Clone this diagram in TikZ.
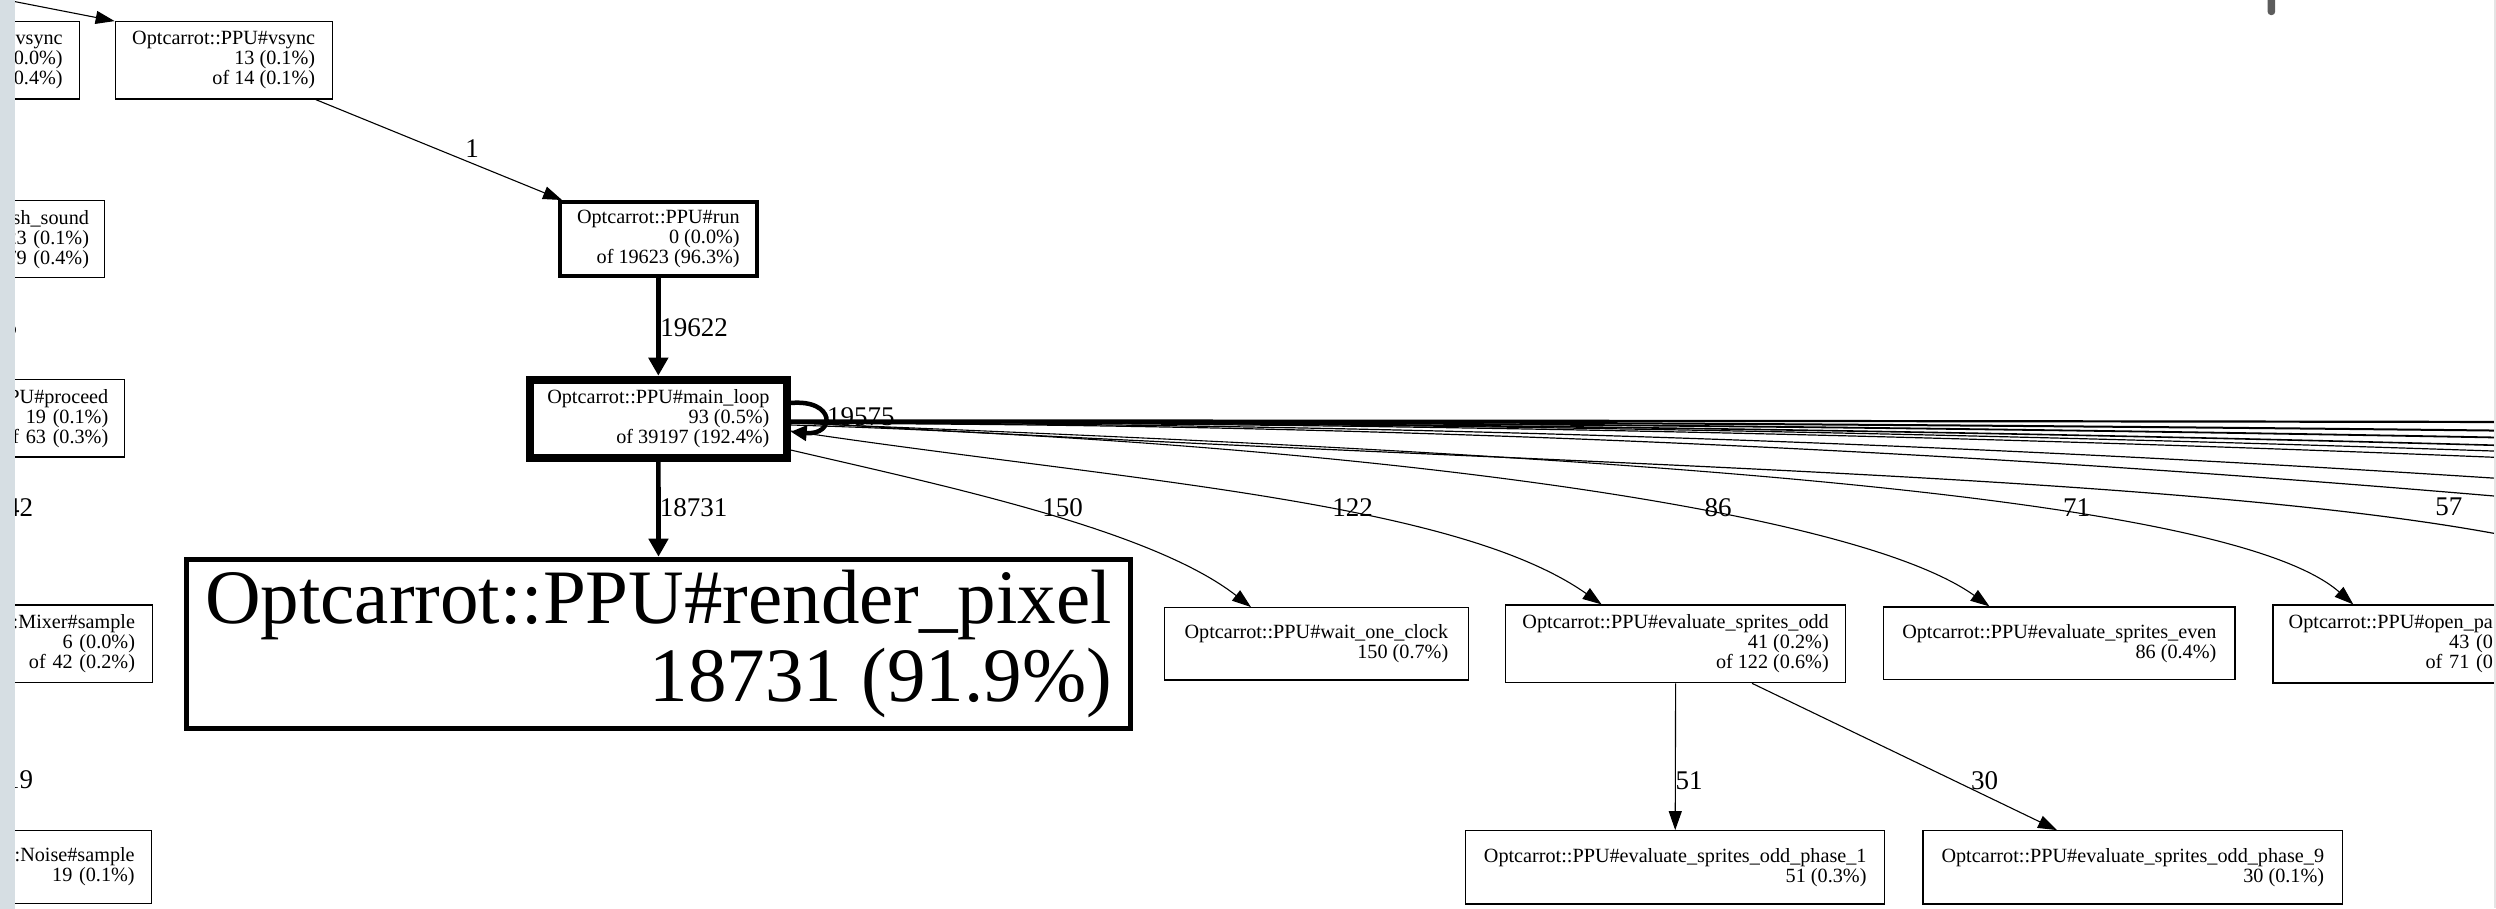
\documentclass[tikz,border=0pt]{standalone}
\usepackage{fontspec}
\setmainfont{Liberation Serif}
\usetikzlibrary{arrows.meta}
\definecolor{stripcol}{RGB}{214,222,227}
\definecolor{barcol}{RGB}{92,92,92}
\definecolor{rimcol}{RGB}{228,228,228}
\begin{document}
\begin{tikzpicture}[x=1pt,y=-1pt,
  fn/.style={draw, line width=1.2pt, align=right, inner xsep=17pt, inner ysep=0pt,
    font=\fontsize{20.2}{20}\selectfont},
  elabel/.style={inner sep=0pt, font=\fontsize{27}{27}\selectfont},
  thinedge/.style={line width=1.1pt, -{Triangle[length=19pt,width=13pt]}},
  thickedge/.style={line width=4.7pt, -{Triangle[length=18pt,width=19pt]}},
  loopedge/.style={line width=4.5pt, -{Triangle[length=16pt,width=15pt]}},
  fanedge/.style={line width=1.2pt}
]
\useasboundingbox (0,0) rectangle (2496,908);
\clip (0,0) rectangle (2496,908);

% ---------- nodes ----------
\node[fn, inner xsep=16.7pt, text width=86pt, minimum height=77.3pt, anchor=east] (vsyncL) at (80,60.35)
  {\#vsync\\(0.0\%)\\(0.4\%)};
\node[fn, minimum width=216pt, minimum height=77.3pt] (vsync) at (223.7,60.35)
  {Optcarrot::PPU\#vsync\\13 (0.1\%)\\of 14 (0.1\%)};
\node[fn, inner xsep=15.7pt, text width=106pt, minimum height=77pt, anchor=east] (flushL) at (105.3,239.2)
  {sh\_sound\\23 (0.1\%)\\79 (0.4\%)};
\node[fn, inner xsep=16.1pt, text width=126pt, minimum height=77.7pt, anchor=east] (proceedL) at (125,418.15)
  {PU\#proceed\\19 (0.1\%)\\of 63 (0.3\%)};
\node[fn, inner xsep=17.1pt, text width=156pt, minimum height=77.3pt, anchor=east] (mixerL) at (152.7,643.65)
  {:Mixer\#sample\\6 (0.0\%)\\of 42 (0.2\%)};
\node[fn, inner xsep=16.4pt, text width=156pt, minimum height=72.6pt, anchor=east] (noiseL) at (151.7,867)
  {:Noise\#sample\\19 (0.1\%)};

\node[fn, line width=4pt, minimum width=192.7pt, minimum height=74.3pt] (run) at (658.35,239.15)
  {Optcarrot::PPU\#run\\0 (0.0\%)\\of 19623 (96.3\%)};
\node[fn, line width=8pt, minimum width=256.7pt, minimum height=78pt] (main) at (658.35,418.7)
  {Optcarrot::PPU\#main\_loop\\93 (0.5\%)\\of 39197 (192.4\%)};
\node[fn, line width=5pt, inner xsep=19pt, minimum width=942pt, minimum height=169pt,
  font=\fontsize{77}{78}\selectfont] (render) at (658.5,643.7)
  {Optcarrot::PPU\#render\_pixel\\18731 (91.9\%)};

\node[fn, minimum width=303.8pt, minimum height=72.3pt] (wait) at (1316.4,643.85)
  {Optcarrot::PPU\#wait\_one\_clock\\150 (0.7\%)};
\node[fn, minimum width=340.2pt, minimum height=77.7pt] (odd) at (1675.6,643.85)
  {Optcarrot::PPU\#evaluate\_sprites\_odd\\41 (0.2\%)\\of 122 (0.6\%)};
\node[fn, minimum width=351.4pt, minimum height=72.5pt] (even) at (2059.3,643.25)
  {Optcarrot::PPU\#evaluate\_sprites\_even\\86 (0.4\%)};
\node[fn, inner xsep=12pt, text width=208pt, minimum height=78pt, anchor=west] (openpa) at (2272.3,644)
  {Optcarrot::PPU\#open\_pa\\43 (0\\of 71 (0};
\node[fn, minimum width=419pt, minimum height=73.3pt] (phase1) at (1675.2,867.35)
  {Optcarrot::PPU\#evaluate\_sprites\_odd\_phase\_1\\51 (0.3\%)};
\node[fn, minimum width=419.6pt, minimum height=73.3pt] (phase9) at (2132.8,867.35)
  {Optcarrot::PPU\#evaluate\_sprites\_odd\_phase\_9\\30 (0.1\%)};

% ---------- free ends ----------
\coordinate (vin) at (-20,-5.2);
\coordinate (offA) at (2800,422.5);
\coordinate (offB) at (2800,434.3);
\coordinate (offC) at (2800,443.7);
\coordinate (offD) at (2800,454.3);
\coordinate (offE) at (2800,462.4);
\coordinate (offF) at (2800,470.9);
\coordinate (offG) at (2800,499.7);
\coordinate (offH) at (2800,524.4);
\coordinate (off57) at (2700,605);

% ---------- edges ----------
\draw[thinedge] (vin) -- (vsync.north west);
\draw[thinedge] ([xshift=-17pt]vsync.south east) -- ([xshift=4pt]run.north west);
\draw[thickedge] (run.south) -- (main.north);
\draw[thickedge] (main.south) -- (render.north);
\draw[loopedge] ([yshift=15.7pt]main.east) .. controls +(45,-4) and +(45,4) .. ([yshift=-13pt]main.east);

\draw[fanedge, line width=2.2pt] ([yshift=-1.8pt]main.east) .. controls +(669.7,0) and +(-669.7,-1.3) .. (offA);
\draw[fanedge, line width=2pt] ([yshift=-2.3pt]main.east) .. controls +(669.7,0) and +(-669.7,-8.9) .. (offB);
\draw[fanedge, line width=1.8pt] ([yshift=-2.8pt]main.east) .. controls +(669.7,0) and +(-669.7,-14.8) .. (offC);
\draw[fanedge, line width=1.6pt] ([yshift=-3.3pt]main.east) .. controls +(669.7,0) and +(-669.7,-21.5) .. (offD);
\draw[fanedge] ([yshift=-3.3pt]main.east) .. controls +(669.7,0) and +(-669.7,-26.9) .. (offE);
\draw[fanedge] ([yshift=-3.8pt]main.east) .. controls +(669.7,0) and +(-669.7,-32.3) .. (offF);
\draw[fanedge] ([yshift=-4.3pt]main.east) .. controls +(669.7,0) and +(-669.7,-51.1) .. (offG);
\draw[fanedge] ([yshift=-4.8pt]main.east) .. controls +(669.7,0) and +(-669.7,-67.3) .. (offH);
\draw[fanedge] ([yshift=-3.3pt]main.east) .. controls +(900,54) and +(-150,-132) .. (off57);

\draw[thinedge] ([yshift=-4.3pt]main.east) .. controls +(700,28) and +(-135,-118.8) .. ([xshift=81pt]openpa.north west);
\draw[thinedge] ([yshift=-6.3pt]main.east) .. controls +(500,15) and +(-145.8,-104.4) .. ([xshift=-69.8pt]even.north);
\draw[thinedge] ([yshift=-12.3pt]main.east) .. controls +(330,49.5) and +(-147.6,-104) .. ([xshift=-74pt]odd.north);
\draw[thinedge] ([yshift=-31.3pt]main.east) .. controls +(150,35) and +(-100,-78) .. ([xshift=-65.4pt]wait.north);

\draw[thinedge] (odd.south) -- (phase1.north);
\draw[thinedge] ([xshift=76.4pt]odd.south) -- ([xshift=-75.8pt]phase9.north);

% ---------- edge labels ----------
\node[elabel] (l1) at (472,148.8) {1};
\node[elabel] (l19622) at (694,327.8) {19622};
\node[elabel] (l19575) at (860.8,416.7) {19575};
\node[elabel] (l18731) at (693.7,507.8) {18731};
\node[elabel] (l150) at (1062.7,507.8) {150};
\node[elabel] (l122) at (1352.5,507.8) {122};
\node[elabel] (l86) at (1718,507.8) {86};
\node[elabel] (l71) at (2076.5,507.8) {71};
\node[elabel] (l57) at (2448.8,507) {57};
\node[elabel] (l51) at (1689,780.5) {51};
\node[elabel] (l30) at (1984.5,780.5) {30};
\node[elabel, anchor=east] (l5) at (17.3,326.7) {5};
\node[elabel, anchor=east] (l42) at (33.3,507.5) {42};
\node[elabel, anchor=east] (l19) at (33.3,780) {19};

% ---------- window chrome ----------
\fill[stripcol] (0,-5) rectangle (15,913);
\draw[rimcol, line width=1.5pt] (2495.2,0) -- (2495.2,908);
\fill[barcol, rounded corners=3pt] (2267.7,-8) rectangle (2275,15);
\end{tikzpicture}
\end{document}
